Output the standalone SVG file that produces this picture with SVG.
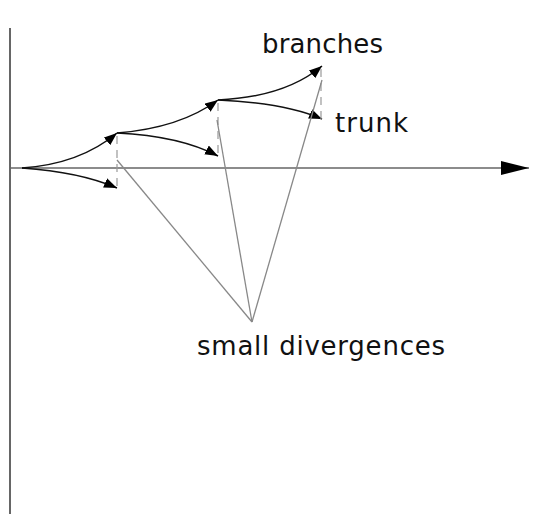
<svg xmlns="http://www.w3.org/2000/svg" width="553" height="515" viewBox="0 0 553 515">
<style>
.ax{stroke:#333;stroke-width:1.5;fill:none}
.hx{stroke:#666;stroke-width:1.5;fill:none}
.br{stroke:#111;stroke-width:1.5;fill:none;marker-end:url(#ah)}
.gr{stroke:#888;stroke-width:1.3;fill:none}
.ds{stroke:#999;stroke-width:1.2;fill:none;stroke-dasharray:8 6}
.lb{font-family:"DejaVu Sans",sans-serif;font-size:26px;fill:#111}
</style>
<defs>
<marker id="ah" viewBox="0 0 13 10" refX="13" refY="5" markerWidth="13" markerHeight="10" markerUnits="userSpaceOnUse" orient="auto"><path d="M0,0 L13,5 L0,10 z" fill="#000"/></marker>
<marker id="ax" viewBox="0 0 28 14" refX="28" refY="7" markerWidth="28" markerHeight="14" markerUnits="userSpaceOnUse" orient="auto"><path d="M0,0 L28,7 L0,14 z" fill="#000"/></marker>
</defs>
<g id="axes">
<line class="ax" x1="10" y1="28" x2="10" y2="514"/>
<line class="hx" x1="10" y1="168" x2="529" y2="168" marker-end="url(#ax)"/>
</g>
<g id="connectors">
<path class="br" d="M22,168 Q80,164 117,133"/>
<path class="br" d="M22,168 Q80,172 117,188"/>
<path class="br" d="M117,133 Q180,128 218,100"/>
<path class="br" d="M117,133 Q180,136 218,156"/>
<path class="br" d="M218,100 Q285,97 322,66"/>
<path class="br" d="M218,100 Q285,103 322,119"/>
<line class="ds" x1="117" y1="136" x2="117" y2="190"/>
<line class="ds" x1="218" y1="103" x2="218" y2="158"/>
<line class="ds" x1="321" y1="69" x2="321" y2="121"/>
<line class="gr" x1="117" y1="160" x2="252" y2="322"/>
<line class="gr" x1="217" y1="120" x2="252" y2="322"/>
<line class="gr" x1="322" y1="80" x2="252" y2="322"/>
</g>
<g id="branches"><text class="lb" x="262" y="53" textLength="121">branches</text></g>
<g id="trunk"><text class="lb" x="335" y="132" textLength="73">trunk</text></g>
<g id="small-divergences"><text class="lb" x="197" y="355" textLength="248">small divergences</text></g>
</svg>
